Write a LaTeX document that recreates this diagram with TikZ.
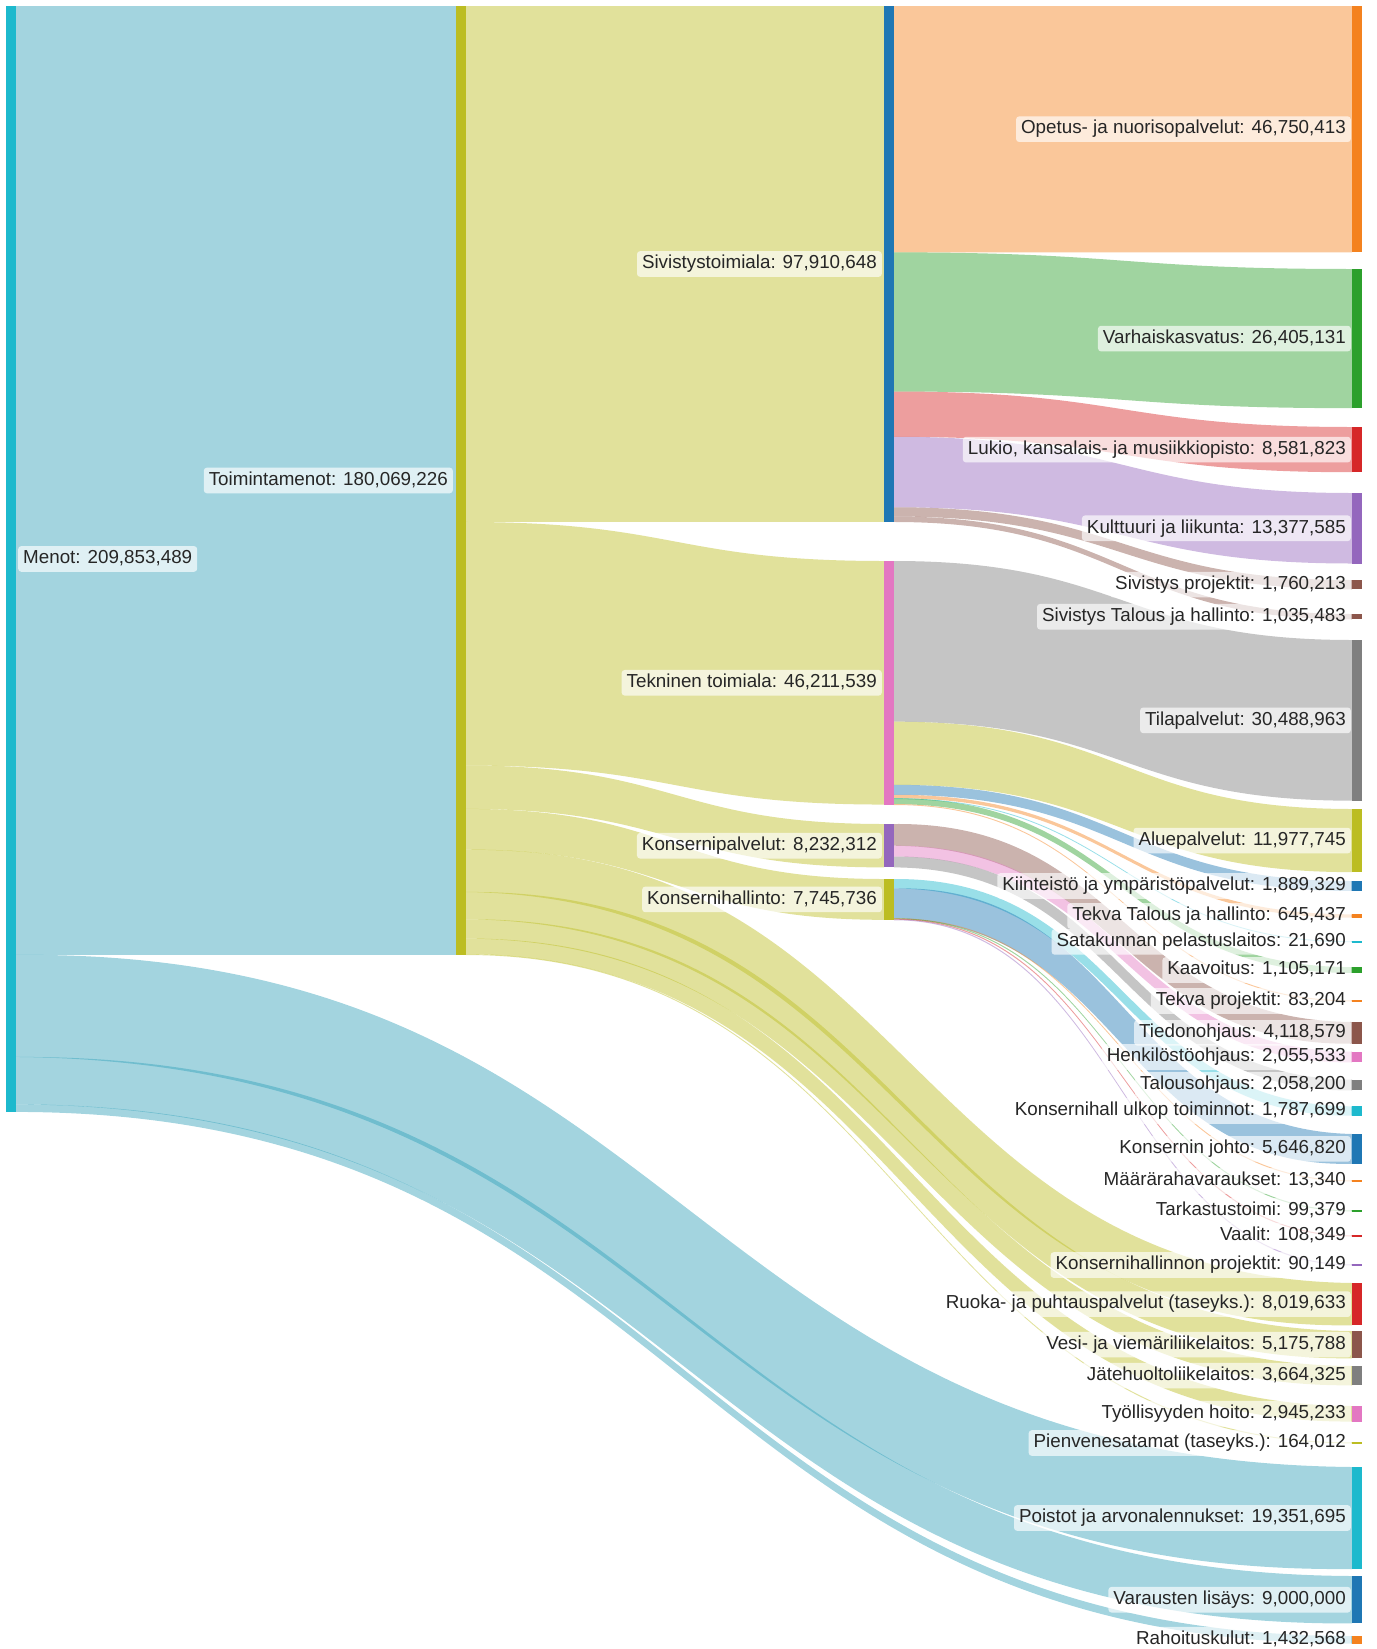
\documentclass[tikz,border=0pt]{standalone}
\usepackage{fontspec}
\setmainfont{Liberation Sans}
\usetikzlibrary{%
	calc,%
	positioning,%
	backgrounds
}

\definecolor{cblue}{HTML}{1F77B4}
\definecolor{corange}{HTML}{F4821F}
\definecolor{cgreen}{HTML}{2CA02C}
\definecolor{cred}{HTML}{D62728}
\definecolor{cpurple}{HTML}{9467BD}
\definecolor{cbrown}{HTML}{8C564B}
\definecolor{cpink}{HTML}{E377C2}
\definecolor{cgrey}{HTML}{7F7F7F}
\definecolor{colive}{HTML}{BCBD22}
\definecolor{ccyan}{HTML}{1DB9CD}
\definecolor{cyanlink}{RGB}{50,160,185}

\tikzset{
	bar/.style={rectangle, inner sep=0pt, outer sep=0pt, minimum width=10pt, anchor=north west},
	lbl/.style={rectangle, rounded corners=3pt, fill=white, fill opacity=0.65, text opacity=1,
		text=black!85, inner xsep=5pt, inner ysep=4pt, text height=13.6pt, text depth=4pt,
		font=\fontsize{18.8}{22}\selectfont},
	link/.style={fill=#1, fill opacity=0.45}
}

% band from source (offset below its top) to the top of the target, #4 = width;
% steep bands swell a little in the middle
\newcommand{\flow}[5]{%
	\fill[link=#5] let \p1=(#1.north east), \p2=(#3.north west),
		\n1={(\x1+\x2)/2},
		\n2={2*abs(\y2-\y1+#2*1pt)/(\x2-\x1)},
		\n3={max(0,#4/2*(0.87*sqrt(1+\n2*\n2)-1))/0.75},
		\n4={\y1-#2*1pt}, \n5={\y2} in
		(\x1,{\n4*1pt}) .. controls ({\n1*1pt},{(\n4+\n3)*1pt}) and ({\n1*1pt},{(\n5+\n3)*1pt}) .. (\x2,{\n5*1pt})
		-- (\x2,{(\n5-#4)*1pt}) .. controls ({\n1*1pt},{(\n5-#4-\n3)*1pt}) and ({\n1*1pt},{(\n4-#4-\n3)*1pt}) .. (\x1,{(\n4-#4)*1pt})
		-- cycle;}

\begin{document}
\begin{tikzpicture}[x=1pt,y=-1pt]
	\useasboundingbox (0,0) rectangle (1376,1649);

	% Menot and Toimintamenot
	\node[bar, fill=ccyan, minimum height=1105.9pt] (menot) at (6,6) {};
	\node[bar, fill=colive, minimum height=948.96pt] (toiminta) at (456,6) {};
	\node[lbl, right=2pt of menot] {Menot: 209,853,489};
	\node[lbl, left=3pt of toiminta] {Toimintamenot: 180,069,226};

	% Toimialat
	\foreach \name/\y/\v/\col/\txt in {
		sivistys/6/97.910648/cblue/{Sivistystoimiala: 97,910,648},
		tekninen/561/46.211539/cpink/{Tekninen toimiala: 46,211,539},
		kpalv/824/8.232312/cpurple/{Konsernipalvelut: 8,232,312},
		khall/879/7.745736/colive/{Konsernihallinto: 7,745,736}}
	{
		\pgfmathsetmacro{\h}{\v*5.27}
		\node[bar, fill=\col, minimum height=\h pt] (\name) at (884,\y) {};
		\node[lbl, left=2pt of \name] {\txt};
	}

	% Targets
	\foreach \name/\y/\v/\col/\txt in {
		opetus/6/46.750413/corange/{Opetus- ja nuorisopalvelut: 46,750,413},
		varhais/269/26.405131/cgreen/{Varhaiskasvatus: 26,405,131},
		lukio/427/8.581823/cred/{Lukio, kansalais- ja musiikkiopisto: 8,581,823},
		kulttuuri/493/13.377585/cpurple/{Kulttuuri ja liikunta: 13,377,585},
		sivproj/580/1.760213/cbrown/{Sivistys projektit: 1,760,213},
		sivtal/614/1.035483/cbrown/{Sivistys Talous ja hallinto: 1,035,483},
		tila/640/30.488963/cgrey/{Tilapalvelut: 30,488,963},
		alue/809/11.977745/colive/{Aluepalvelut: 11,977,745},
		kiint/881/1.889329/cblue/{Kiinteistö ja ympäristöpalvelut: 1,889,329},
		tekvatal/914.3/0.645437/corange/{Tekva Talous ja hallinto: 645,437},
		satak/941.3/0.021690/ccyan/{Satakunnan pelastuslaitos: 21,690},
		kaav/967.1/1.105171/cgreen/{Kaavoitus: 1,105,171},
		tekvaproj/1000.4/0.083204/corange/{Tekva projektit: 83,204},
		tiedon/1022/4.118579/cbrown/{Tiedonohjaus: 4,118,579},
		henk/1051.6/2.055533/cpink/{Henkilöstöohjaus: 2,055,533},
		talous/1079.6/2.058200/cgrey/{Talousohjaus: 2,058,200},
		ulkop/1106.3/1.787699/ccyan/{Konsernihall ulkop toiminnot: 1,787,699},
		johto/1134/5.646820/cblue/{Konsernin johto: 5,646,820},
		maara/1180.4/0.013340/corange/{Määrärahavaraukset: 13,340},
		tarkastus/1210.4/0.099379/cgreen/{Tarkastustoimi: 99,379},
		vaalit/1235.4/0.108349/cred/{Vaalit: 108,349},
		khproj/1264.4/0.090149/cpurple/{Konsernihallinnon projektit: 90,149},
		ruoka/1283/8.019633/cred/{Ruoka- ja puhtauspalvelut (taseyks.): 8,019,633},
		vesi/1331/5.175788/cbrown/{Vesi- ja viemäriliikelaitos: 5,175,788},
		jate/1366/3.664325/cgrey/{Jätehuoltoliikelaitos: 3,664,325},
		tyoll/1406/2.945233/cpink/{Työllisyyden hoito: 2,945,233},
		pienv/1442.4/0.164012/colive/{Pienvenesatamat (taseyks.): 164,012},
		poistot/1467/19.351695/ccyan/{Poistot ja arvonalennukset: 19,351,695},
		varaus/1576/9.000000/cblue/{Varausten lisäys: 9,000,000},
		rahoitus/1636/1.432568/corange/{Rahoituskulut: 1,432,568}}
	{
		\pgfmathsetmacro{\h}{max(\v*5.27,1.2)}
		\node[bar, fill=\col, minimum height=\h pt] (\name) at (1352,\y) {};
		\node[lbl, left=1pt of \name] {\txt};
	}

	% Flows
	\begin{scope}[on background layer]
		\foreach \src/\off/\tgt/\v/\col in {
			menot/0/toiminta/180.069226/cyanlink,
			menot/948.96/poistot/19.351695/cyanlink,
			menot/1050.94/varaus/9.0/cyanlink,
			menot/1098.37/rahoitus/1.432568/cyanlink,
			toiminta/0/sivistys/97.910648/colive,
			toiminta/515.99/tekninen/46.211539/colive,
			toiminta/759.52/kpalv/8.232312/colive,
			toiminta/802.90/khall/7.745736/colive,
			toiminta/843.72/ruoka/8.019633/colive,
			toiminta/885.98/vesi/5.175788/colive,
			toiminta/913.26/jate/3.664325/colive,
			toiminta/932.57/tyoll/2.945233/colive,
			toiminta/948.09/pienv/0.164012/colive,
			sivistys/0/opetus/46.750413/corange,
			sivistys/246.37/varhais/26.405131/cgreen,
			sivistys/385.52/lukio/8.581823/cred,
			sivistys/430.75/kulttuuri/13.377585/cpurple,
			sivistys/501.25/sivproj/1.760213/cbrown,
			sivistys/510.53/sivtal/1.035483/cbrown,
			tekninen/0/tila/30.488963/cgrey,
			tekninen/160.68/alue/11.977745/colive,
			tekninen/223.80/kiint/1.889329/cblue,
			tekninen/233.76/tekvatal/0.645437/corange,
			tekninen/237.16/satak/0.021690/ccyan,
			tekninen/237.27/kaav/1.105171/cgreen,
			tekninen/243.09/tekvaproj/0.083204/corange,
			kpalv/0/tiedon/4.118579/cbrown,
			kpalv/21.70/henk/2.055533/cpink,
			kpalv/32.53/talous/2.058200/cgrey,
			khall/0/ulkop/1.787699/ccyan,
			khall/9.42/johto/5.646820/cblue,
			khall/39.18/maara/0.013340/corange,
			khall/39.25/tarkastus/0.099379/cgreen,
			khall/39.77/vaalit/0.108349/cred,
			khall/40.34/khproj/0.090149/cpurple}
		{
			\pgfmathsetmacro{\w}{max(\v*5.27,0.9)}
			\flow{\src}{\off}{\tgt}{\w}{\col}
		}
	\end{scope}
\end{tikzpicture}
\end{document}
